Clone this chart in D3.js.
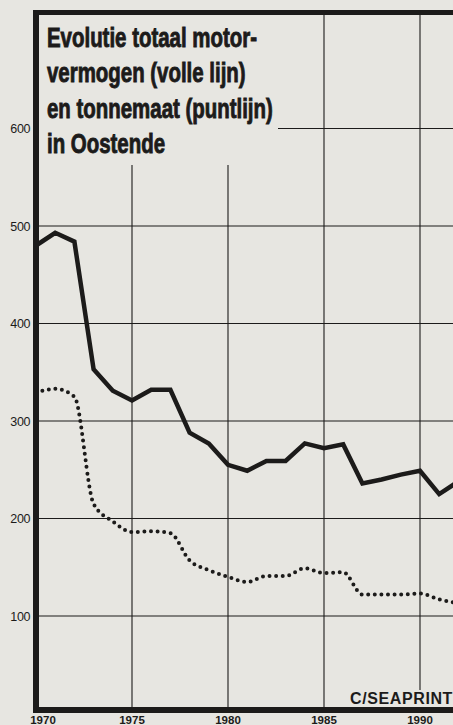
<!DOCTYPE html>
<html>
<head>
<meta charset="utf-8">
<script src="https://cdn.jsdelivr.net/npm/d3@7"></script>
<style>
  html, body { margin: 0; padding: 0; background: #e7e6e1; }
  svg { display: block; }
</style>
</head>
<body>
<svg id="chart" width="453" height="725"></svg>
<script>
// jaren en waarden
const years = [1970, 1971, 1972, 1973, 1974, 1975, 1976, 1977, 1978, 1979, 1980,
  1981, 1982, 1983, 1984, 1985, 1986, 1987, 1988, 1989, 1990, 1991, 1992];
// motorvermogen (volle lijn)
const vermogen = [480, 493, 484, 353, 331, 321, 332, 332, 288, 277, 255,
  249, 259, 259, 277, 272, 276, 236, 240, 245, 249, 225, 238];
// tonnemaat (puntlijn)
const tonnemaat = [329, 333, 325, 215, 197, 186, 187, 185, 157, 147, 140,
  135, 141, 141, 149, 144, 145, 122, 122, 122, 123, 117, 113];

const yTicks = [100, 200, 300, 400, 500, 600];
const xTicks = [1970, 1975, 1980, 1985, 1990];
const titleLines = ["Evolutie totaal motor-", "vermogen (volle lijn)",
  "en tonnemaat (puntlijn)", "in Oostende"];
const credit = "C/SEAPRINT";

const paper = "#e7e6e1";
const ink = "#1c1b1a";

const svg = d3.select("#chart");
const width = +svg.attr("width");
const height = +svg.attr("height");

const x = d3.scaleLinear().domain([1970, 1990]).range([36, 420]);
const y = d3.scaleLinear().domain([0, 600]).range([713.5, 128.5]);

const frameTop = 12.5, frameBottom = 710;

// rasterlijnen
svg.append("g")
  .selectAll("line")
  .data(yTicks)
  .enter()
  .append("line")
  .attr("x1", x(1970)).attr("x2", width + 10)
  .attr("y1", d => y(d)).attr("y2", d => y(d))
  .attr("stroke", ink).attr("stroke-width", 1.1);

svg.append("g")
  .selectAll("line")
  .data(xTicks.slice(1))
  .enter()
  .append("line")
  .attr("x1", d => x(d)).attr("x2", d => x(d))
  .attr("y1", frameTop).attr("y2", frameBottom)
  .attr("stroke", ink).attr("stroke-width", 1.1);

// lijnen
const solid = d3.line()
  .x((d, i) => x(years[i]))
  .y(d => y(d));

const dotted = d3.line()
  .x((d, i) => x(years[i]))
  .y(d => y(d))
  .curve(d3.curveMonotoneX);

svg.append("path")
  .datum(tonnemaat)
  .attr("d", dotted)
  .attr("fill", "none")
  .attr("stroke", ink)
  .attr("stroke-width", 4)
  .attr("stroke-linecap", "round")
  .attr("stroke-dasharray", "0 6.6");

svg.append("path")
  .datum(vermogen)
  .attr("d", solid)
  .attr("fill", "none")
  .attr("stroke", ink)
  .attr("stroke-width", 4.5)
  .attr("stroke-linejoin", "miter");

// titel (met vlak in papierkleur)
svg.append("rect")
  .attr("x", 39).attr("y", 15)
  .attr("width", 239).attr("height", 150)
  .attr("fill", paper);

const title = svg.append("g")
  .attr("font-family", "'Liberation Sans', Arial, sans-serif")
  .attr("font-weight", "bold")
  .attr("font-size", 27)
  .attr("fill", ink)
  .attr("stroke", ink)
  .attr("stroke-width", 0.9);

title.selectAll("text")
  .data(titleLines)
  .enter()
  .append("text")
  .attr("x", 0)
  .attr("y", (d, i) => 47 + i * 35.3)
  .text(d => d);

// smal lettertype nabootsen
const w0 = title.select("text").node().getComputedTextLength();
title.attr("transform", `translate(47,0) scale(${210 / w0},1)`);

// credit
svg.append("rect")
  .attr("x", 345).attr("y", 690)
  .attr("width", 120).attr("height", 17)
  .attr("fill", paper);

svg.append("text")
  .attr("x", 453).attr("y", 704)
  .attr("text-anchor", "end")
  .attr("font-family", "'Liberation Sans', Arial, sans-serif")
  .attr("font-weight", "bold")
  .attr("font-size", 16)
  .attr("letter-spacing", 0.6)
  .attr("fill", ink)
  .text(credit);

// kader
svg.append("line")
  .attr("x1", 33).attr("x2", width + 10)
  .attr("y1", frameTop).attr("y2", frameTop)
  .attr("stroke", ink).attr("stroke-width", 5);
svg.append("line")
  .attr("x1", 33).attr("x2", width + 10)
  .attr("y1", frameBottom).attr("y2", frameBottom)
  .attr("stroke", ink).attr("stroke-width", 6);
svg.append("line")
  .attr("x1", x(1970)).attr("x2", x(1970))
  .attr("y1", frameTop - 2.5).attr("y2", frameBottom + 3)
  .attr("stroke", ink).attr("stroke-width", 6);

// aslabels
svg.append("g")
  .selectAll("text")
  .data(yTicks)
  .enter()
  .append("text")
  .attr("x", 30)
  .attr("y", d => y(d))
  .attr("dy", "0.36em")
  .attr("text-anchor", "end")
  .attr("font-family", "'Liberation Sans Narrow', 'Arial Narrow', 'Liberation Sans', sans-serif")
  .attr("font-size", 12.5)
  .attr("letter-spacing", -0.4)
  .attr("fill", ink)
  .text(d => d);

svg.append("g")
  .selectAll("text")
  .data(xTicks)
  .enter()
  .append("text")
  .attr("x", d => x(d) + (d === 1970 ? 7 : 0))
  .attr("y", 723.5)
  .attr("text-anchor", "middle")
  .attr("font-family", "'Liberation Sans Narrow', 'Arial Narrow', 'Liberation Sans', sans-serif")
  .attr("font-weight", "bold")
  .attr("font-size", 11.5)
  .attr("fill", ink)
  .text(d => d);
</script>
</body>
</html>
